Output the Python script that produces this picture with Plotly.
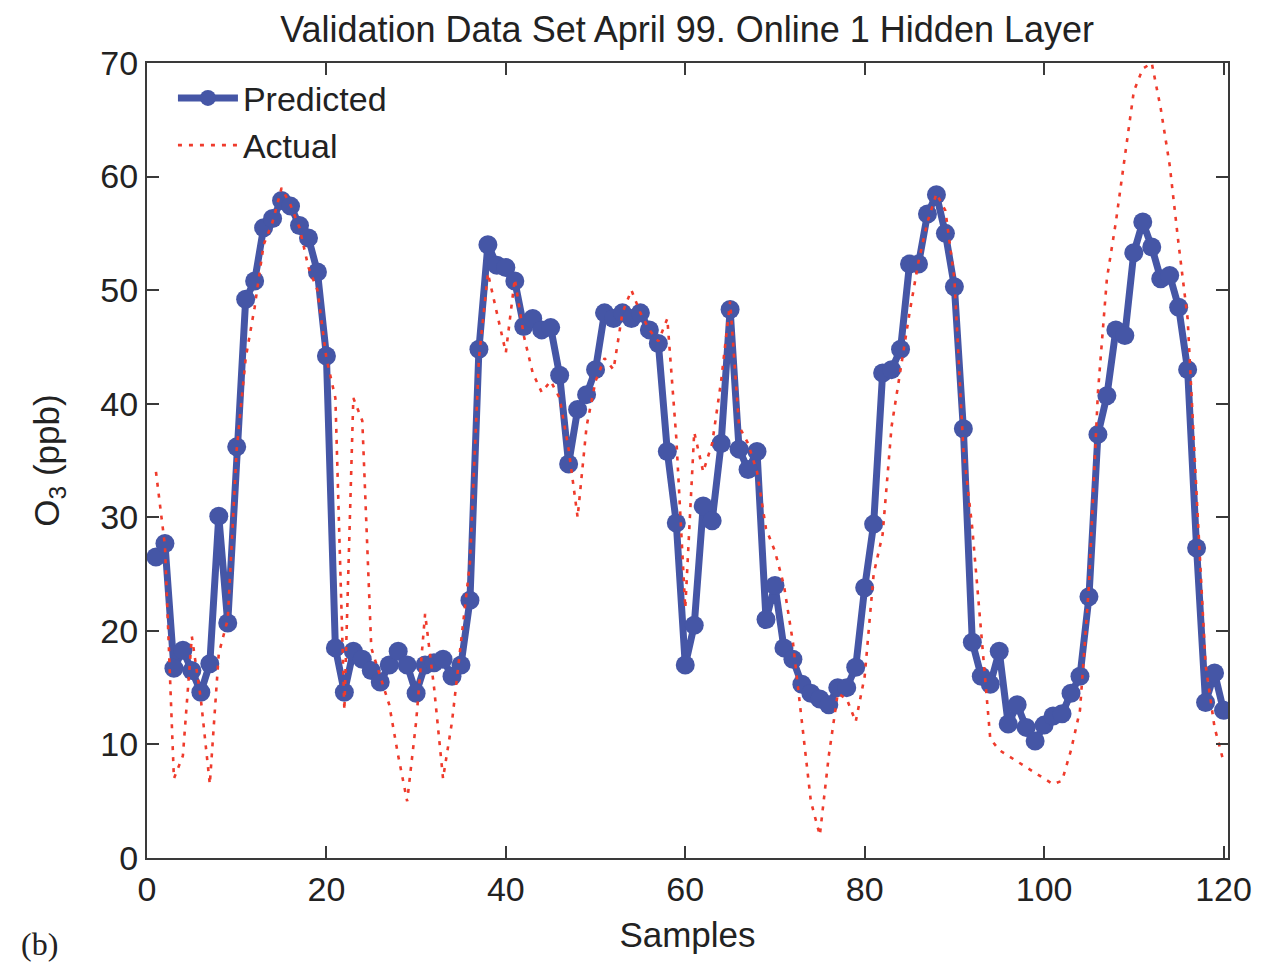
import plotly.graph_objects as go

# Sample index (1..120)
samples = list(range(1, 121))

# Network output (ppb)
predicted = [
    26.5, 27.7, 16.7, 18.3, 16.5, 14.6, 17.1, 30.1, 20.7, 36.2,
    49.2, 50.8, 55.5, 56.3, 57.9, 57.4, 55.7, 54.6, 51.6, 44.2,
    18.5, 14.6, 18.2, 17.5, 16.5, 15.5, 17.0, 18.2, 17.0, 14.5,
    17.0, 17.2, 17.5, 16.0, 17.0, 22.7, 44.8, 54.0, 52.2, 52.0,
    50.8, 46.8, 47.5, 46.5, 46.7, 42.5, 34.7, 39.5, 40.8, 43.0,
    48.0, 47.5, 48.0, 47.5, 48.0, 46.5, 45.3, 35.8, 29.5, 17.0,
    20.5, 31.0, 29.7, 36.5, 48.3, 36.0, 34.2, 35.8, 21.0, 24.0,
    18.5, 17.5, 15.3, 14.5, 14.0, 13.5, 15.0, 15.0, 16.8, 23.8,
    29.4, 42.7, 43.0, 44.8, 52.3, 52.3, 56.7, 58.4, 55.0, 50.3,
    37.8, 19.0, 16.0, 15.3, 18.2, 11.8, 13.5, 11.5, 10.3, 11.7,
    12.5, 12.7, 14.5, 16.0, 23.0, 37.3, 40.7, 46.5, 46.0, 53.3,
    56.0, 53.8, 51.0, 51.3, 48.5, 43.0, 27.3, 13.7, 16.3, 13.0,
]

# Measured O3 (ppb)
actual = [
    34.0, 27.5, 7.0, 9.0, 19.5, 14.0, 6.5, 18.0, 21.0, 36.0,
    44.0, 48.5, 54.0, 56.0, 59.0, 57.5, 55.5, 52.0, 50.0, 44.0,
    40.5, 13.0, 40.5, 38.5, 18.5, 16.0, 13.5, 9.0, 5.0, 12.0,
    21.5, 15.0, 7.0, 12.0, 19.0, 26.0, 44.0, 51.5, 48.0, 44.5,
    51.0, 46.0, 42.7, 41.0, 42.0, 40.5, 36.0, 30.0, 38.0, 42.0,
    44.0, 43.0, 48.0, 50.0, 48.0, 46.5, 45.5, 47.5, 37.0, 22.0,
    37.5, 34.0, 36.5, 42.0, 49.0, 38.0, 36.5, 34.0, 29.0, 27.0,
    24.0, 19.0, 12.0, 5.0, 2.0, 9.0, 14.5, 14.0, 12.0, 16.0,
    25.0, 28.5, 38.0, 43.0, 48.0, 52.5, 56.0, 58.5, 57.0, 51.0,
    36.0, 29.0, 20.0, 10.5, 9.5, 9.0, 8.5, 8.0, 7.5, 7.0,
    6.5, 6.8, 9.5, 13.0, 24.0, 41.0, 51.0, 56.0, 62.0, 67.5,
    69.5, 70.0, 66.0, 61.0, 54.0, 47.5, 32.0, 17.0, 11.5, 8.5,
]

x_ticks = [0, 20, 40, 60, 80, 100, 120]
y_ticks = [0, 10, 20, 30, 40, 50, 60, 70]

BLUE = "#4556a6"
RED = "#ef3b2c"
AXIS = "#3a3a3a"
TEXT = "#222"
FONT = "Liberation Sans, Arial, sans-serif"

fig = go.Figure()

fig.add_trace(go.Scatter(
    x=samples, y=predicted, name="Predicted",
    mode="lines+markers",
    line=dict(color=BLUE, width=7),
    marker=dict(color=BLUE, size=19, symbol="circle"),
))

fig.add_trace(go.Scatter(
    x=samples, y=actual, name="Actual",
    mode="lines",
    line=dict(color=RED, width=2.6, dash="4px,7px"),
))

axis_common = dict(
    showgrid=False, zeroline=False,
    showline=True, linecolor=AXIS, linewidth=2,
    mirror="ticks", ticks="inside", ticklen=12, tickwidth=1.5, tickcolor=AXIS,
    tickfont=dict(family=FONT, size=34, color=TEXT),
)

fig.update_xaxes(
    range=[0, 120.5], tickvals=x_ticks,
    title=dict(text="Samples", font=dict(family=FONT, size=35, color=TEXT), standoff=16),
    **axis_common,
)
fig.update_yaxes(
    range=[0, 70], tickvals=y_ticks,
    title=dict(text="O<sub>3</sub> (ppb)", font=dict(family=FONT, size=35, color=TEXT), standoff=30),
    **axis_common,
)

fig.update_layout(
    width=1270, height=964,
    paper_bgcolor="white", plot_bgcolor="white",
    margin=dict(l=147, r=42, t=63, b=106),
    title=dict(
        text="Validation Data Set April 99. Online 1 Hidden Layer",
        font=dict(family=FONT, size=36, color=TEXT),
        x=0.541, xanchor="center", y=0.97, yanchor="middle",
    ),
    legend=dict(
        x=0.024, y=0.992, xanchor="left", yanchor="top",
        bgcolor="rgba(255,255,255,0)",
        font=dict(family=FONT, size=34, color=TEXT),
        itemwidth=60, tracegroupgap=0,
    ),
    showlegend=True,
)

fig.add_annotation(
    text="(b)", xref="paper", yref="paper",
    x=-0.118, y=-0.108, xanchor="left", yanchor="middle",
    showarrow=False,
    font=dict(family="Liberation Serif, Times New Roman, serif", size=32, color=TEXT),
)

fig.write_html("out.html")
